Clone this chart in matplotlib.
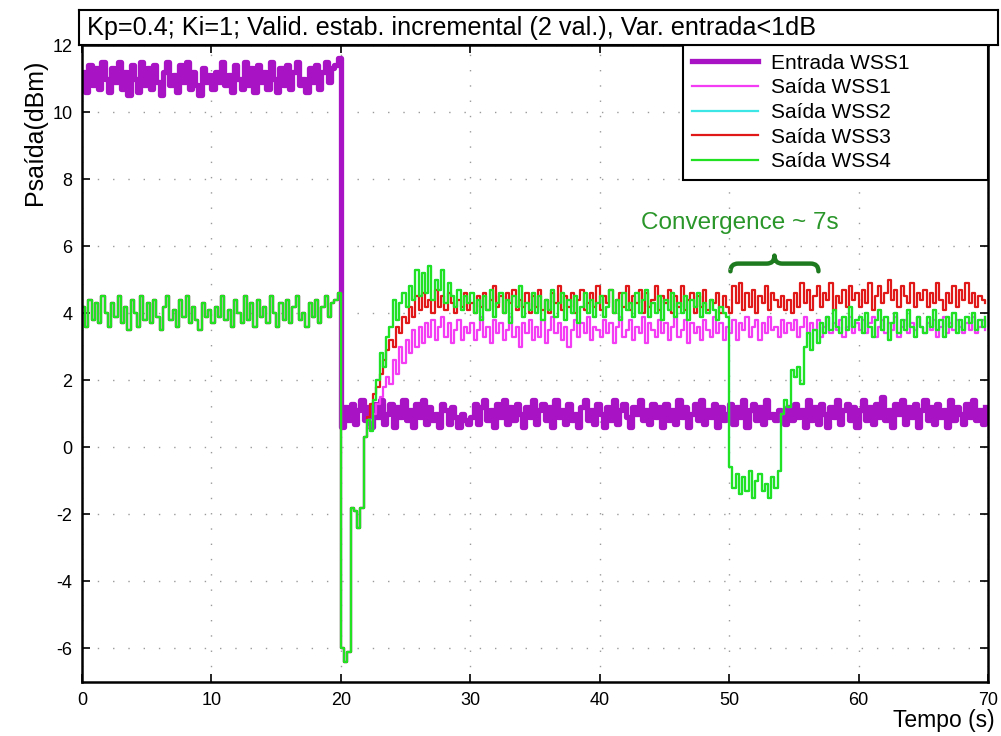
import numpy as np
import matplotlib
matplotlib.use("Agg")
import matplotlib.pyplot as plt
from matplotlib.path import Path
from matplotlib.patches import PathPatch

plt.rcParams['font.family'] = ['Liberation Sans', 'DejaVu Sans']
plt.rcParams['axes.unicode_minus'] = False

# -------------------------------
# Dados (amostras a cada 0.25 s)
# -------------------------------
passo = 0.25

entrada_pre = [
    11.2, 10.6, 11.4, 10.8, 11.3, 10.7, 11.5, 11.0, 10.6, 11.3, 10.9, 11.5, 10.7, 11.2, 10.5, 11.4, 11.0, 10.6, 11.5, 10.8,
    11.3, 10.7, 11.4, 10.9, 10.5, 11.2, 11.5, 10.8, 11.1, 10.6, 11.4, 10.9, 11.5, 10.7, 11.2, 10.8, 10.5, 11.3, 10.9, 11.1,
    10.7, 11.2, 10.9, 11.5, 10.8, 11.1, 10.6, 11.4, 11.0, 10.7, 11.5, 10.8, 11.3, 10.6, 11.4, 10.9, 11.2, 10.7, 11.5, 11.0,
    10.6, 11.3, 10.8, 11.4, 10.7, 11.2, 11.5, 10.8, 11.0, 10.6, 11.3, 10.9, 11.4, 10.7, 11.2, 11.5, 10.9, 11.3, 11.4, 11.6]

entrada_pos = [
    0.6, 1.2, 0.8, 1.3, 0.7, 1.1, 1.4, 0.8, 1.2, 0.6, 1.3, 0.9, 1.4, 0.7, 1.0, 1.3, 0.6, 1.2, 0.9, 1.4,
    0.8, 1.1, 0.6, 1.3, 0.9, 1.4, 0.7, 1.2, 0.8, 1.0, 0.6, 1.3, 1.1, 0.7, 1.2, 0.9, 0.6, 1.0, 0.8, 0.7,
    0.9, 1.3, 0.7, 1.2, 1.4, 0.8, 1.1, 0.6, 1.3, 0.9, 1.4, 0.7, 1.2, 0.8, 1.3, 1.0, 0.6, 1.2, 0.9, 1.4,
    0.7, 1.1, 1.3, 0.8, 1.2, 0.6, 1.4, 0.9, 1.1, 0.7, 1.3, 0.8, 1.0, 0.6, 1.2, 1.4, 0.8, 1.1, 0.7, 1.3,
    1.0, 0.6, 1.2, 0.8, 1.4, 0.7, 1.1, 1.3, 0.9, 0.6, 1.2, 1.0, 1.4, 0.8, 1.1, 0.7, 1.3, 0.9, 1.2, 0.6,
    1.3, 0.8, 1.1, 0.7, 1.4, 0.9, 1.2, 0.6, 1.0, 1.3, 0.8, 1.4, 0.7, 1.1, 0.9, 1.3, 0.6, 1.2, 0.8, 1.0,
    1.3, 0.7, 1.2, 0.9, 1.4, 0.6, 1.1, 1.3, 0.8, 1.2, 0.7, 1.4, 0.9, 1.0, 0.8, 1.1, 0.9, 0.7, 1.2, 0.8,
    1.3, 0.9, 1.1, 0.6, 1.4, 0.8, 1.2, 0.7, 1.3, 1.0, 0.6, 1.2, 0.9, 1.4, 0.7, 1.1, 1.3, 0.8, 1.2, 0.6,
    1.1, 1.4, 0.8, 1.2, 0.7, 1.3, 0.9, 1.5, 0.8, 1.1, 0.6, 1.3, 1.0, 1.4, 0.7, 1.2, 0.9, 1.3, 0.6, 1.1,
    1.4, 0.8, 1.2, 0.7, 1.3, 0.9, 1.1, 0.6, 1.4, 0.8, 1.2, 1.0, 0.7, 1.3, 0.9, 1.4, 0.8, 1.1, 0.7, 1.2]

# saídas antes do degrau (as 4 WSS coincidem)
saida_pre = [
    4.2, 3.6, 4.4, 3.8, 4.3, 3.7, 4.5, 4.0, 3.6, 4.3, 3.9, 4.5, 3.7, 4.2, 3.5, 4.4, 4.0, 3.6, 4.5, 3.8,
    4.3, 3.7, 4.4, 3.9, 3.5, 4.2, 4.5, 3.8, 4.1, 3.6, 4.4, 3.9, 4.5, 3.7, 4.2, 3.8, 3.5, 4.3, 3.9, 4.1,
    3.7, 4.2, 3.9, 4.5, 3.8, 4.1, 3.6, 4.4, 4.0, 3.7, 4.5, 3.8, 4.3, 3.6, 4.4, 3.9, 4.2, 3.7, 4.5, 4.0,
    3.6, 4.3, 3.8, 4.4, 3.7, 4.2, 4.5, 3.8, 4.0, 3.6, 4.3, 3.9, 4.4, 3.7, 4.2, 4.5, 3.9, 4.3, 4.4, 4.6]

saida_wss1_pos = [
    -6.0, -6.4, -6.1, -1.8, -1.9, -2.4, -1.8, 0.3, 0.6, 0.8, 1.0, 1.3, 1.5, 1.8, 2.1, 1.9, 2.6, 2.2, 3.0, 2.5,
    3.2, 2.8, 3.5, 3.0, 3.6, 3.1, 3.7, 3.3, 3.8, 3.2, 3.6, 3.9, 3.3, 3.7, 3.1, 3.5, 3.8, 3.2, 3.6, 3.4,
    3.7, 3.2, 3.5, 3.9, 3.3, 3.6, 3.1, 3.8, 3.4, 3.7, 3.2, 3.5, 3.9, 3.3, 3.6, 3.0, 3.7, 3.4, 3.8, 3.2,
    3.6, 3.3, 3.8, 3.1, 3.5, 3.9, 3.4, 3.7, 3.2, 3.6, 3.0, 3.5, 3.8, 3.3, 3.7, 3.4, 3.9, 3.2, 3.6, 3.5,
    3.3, 3.8, 3.4, 3.7, 3.1, 3.6, 3.9, 3.3, 3.5, 3.8, 3.2, 3.6, 3.4, 3.9, 3.1, 3.7, 3.5, 3.3, 3.8, 3.4,
    3.7, 3.2, 3.6, 3.9, 3.3, 3.5, 3.8, 3.1, 3.7, 3.4, 3.6, 3.2, 3.8, 3.5, 3.3, 3.9, 3.4, 3.7, 3.2, 3.6,
    3.4, 3.8, 3.2, 3.7, 3.5, 3.9, 3.3, 3.6, 3.8, 3.2, 3.7, 3.4, 3.9, 3.5, 3.6, 3.3, 3.8, 3.4, 3.7, 3.5,
    3.8, 3.3, 3.6, 3.9, 3.4, 3.7, 3.5, 3.8, 3.3, 3.6, 3.9, 3.4, 3.7, 3.5, 3.8, 3.3, 3.6, 3.9, 3.4, 3.7,
    3.5, 3.8, 3.4, 3.7, 3.9, 3.3, 3.6, 3.8, 3.4, 3.7, 3.5, 3.9, 3.3, 3.6, 3.8, 3.4, 3.7, 3.5, 3.9, 3.6,
    3.4, 3.7, 3.5, 3.8, 3.3, 3.6, 3.9, 3.4, 3.7, 3.5, 3.8, 3.6, 3.4, 3.7, 3.5, 3.9, 3.4, 3.6, 3.8, 3.5]

saida_wss3_pos = [
    -6.0, -6.4, -6.1, -1.8, -1.9, -2.4, -1.8, 0.3, 0.9, 1.3, 1.6, 1.8, 2.2, 2.6, 2.9, 3.2, 3.0, 3.6, 3.4, 3.9,
    3.7, 4.2, 3.9, 4.5, 4.1, 4.6, 4.2, 4.4, 4.0, 4.7, 4.2, 4.5, 4.1, 4.6, 4.3, 4.0, 4.4, 4.2, 4.6, 4.1,
    4.3, 4.0, 4.5, 4.2, 4.6, 4.1, 4.4, 4.8, 4.2, 4.5, 4.0, 4.6, 4.3, 4.7, 4.1, 4.4, 4.2, 4.6, 4.0, 4.5,
    4.2, 4.7, 4.1, 4.4, 4.0, 4.6, 4.3, 4.8, 4.1, 4.5, 4.2, 4.6, 4.0, 4.4, 4.7, 4.1, 4.3, 4.6, 4.2, 4.8,
    4.1, 4.5, 4.3, 4.7, 4.0, 4.4, 4.6, 4.2, 4.8, 4.1, 4.5, 4.3, 4.7, 4.0, 4.6, 4.2, 4.4, 4.8, 4.1, 4.5,
    4.3, 4.7, 4.0, 4.5, 4.2, 4.8, 4.1, 4.4, 4.6, 4.0, 4.5, 4.2, 4.7, 4.1, 4.4, 4.3, 4.6, 4.0, 4.5, 4.2,
    4.0, 4.8, 4.3, 4.9, 4.1, 4.6, 4.2, 4.7, 4.0, 4.5, 4.3, 4.8, 4.1, 4.6, 4.4, 4.2, 4.5, 4.1, 4.4, 4.0,
    4.6, 4.2, 4.9, 4.3, 4.7, 4.1, 4.5, 4.8, 4.2, 4.6, 4.4, 4.9, 4.1, 4.5, 4.3, 4.7, 4.2, 4.8, 4.4, 4.6,
    4.2, 4.7, 4.3, 4.9, 4.1, 4.5, 4.8, 4.3, 4.6, 5.0, 4.4, 4.7, 4.2, 4.8, 4.5, 4.3, 4.9, 4.2, 4.6, 4.4,
    4.7, 4.2, 4.6, 4.3, 4.9, 4.4, 4.1, 4.6, 4.3, 4.8, 4.2, 4.7, 4.4, 4.9, 4.3, 4.6, 4.2, 4.5, 4.4, 4.3]

saida_wss4_pos = [
    -6.0, -6.4, -6.1, -1.8, -1.9, -2.4, -1.8, 0.3, 0.8, 0.5, 1.4, 2.0, 2.8, 2.4, 3.3, 3.6, 4.4, 3.8, 4.3, 4.6,
    4.2, 4.8, 4.4, 5.3, 4.5, 5.2, 4.6, 5.4, 4.4, 5.0, 4.7, 5.3, 4.3, 4.9, 4.5, 4.2, 4.7, 4.1, 4.5, 4.3,
    4.6, 4.0, 4.4, 3.8, 4.5, 4.1, 4.7, 3.9, 4.3, 4.6, 4.0, 4.4, 3.7, 4.5, 4.2, 4.8, 3.9, 4.3, 4.1, 4.6,
    4.0, 4.5, 3.8, 4.4, 4.1, 4.7, 3.9, 4.3, 4.6, 3.8, 4.4, 4.0, 4.5, 3.7, 4.2, 4.6, 4.0, 4.4, 3.9, 4.3,
    4.5, 3.9, 4.2, 4.7, 4.0, 4.4, 3.8, 4.6, 4.1, 4.3, 3.9, 4.6, 4.0, 4.4, 4.7, 3.9, 4.3, 4.0, 4.5, 3.8,
    4.4, 4.1, 4.6, 3.9, 4.3, 4.0, 4.5, 3.8, 4.4, 4.2, 4.6, 3.9, 4.3, 4.0, 4.4, 4.1, 3.8, 4.2, 4.0, 3.9,
    -0.6, -1.2, -0.8, -1.4, -0.9, -1.3, -0.7, -1.5, -1.0, -0.8, -1.3, -1.1, -1.5, -0.9, -1.2, -0.7, 1.0, 1.4, 1.2, 2.3,
    2.1, 2.4, 1.9, 3.0, 3.4, 2.9, 3.5, 3.1, 3.7, 3.4, 3.9, 3.5, 4.1, 3.6, 3.4, 3.9, 3.5, 4.2, 3.6, 3.8,
    3.9, 3.4, 4.0, 3.6, 3.3, 3.8, 4.1, 3.5, 3.9, 3.2, 3.7, 4.0, 3.4, 3.8, 3.5, 4.1, 3.6, 3.3, 3.9, 3.6,
    3.4, 3.9, 3.6, 4.1, 3.5, 3.8, 3.3, 3.9, 3.6, 4.0, 3.4, 3.8, 3.5, 3.9, 3.7, 4.0, 3.5, 3.8, 3.6, 3.9]

# WSS2 fica escondida sob a WSS4
saida_wss2_pos = list(saida_wss4_pos)

entrada_wss1 = entrada_pre + entrada_pos
saida_wss1 = saida_pre + saida_wss1_pos
saida_wss2 = saida_pre + saida_wss2_pos
saida_wss3 = saida_pre + saida_wss3_pos
saida_wss4 = saida_pre + saida_wss4_pos

tempo = np.arange(len(entrada_wss1)) * passo

series = [
    ('Entrada WSS1', entrada_wss1, '#A814C4', 3.8),
    ('Saída WSS1', saida_wss1, '#F53CF5', 1.6),
    ('Saída WSS2', saida_wss2, '#3CE6E6', 1.6),
    ('Saída WSS3', saida_wss3, '#E01818', 1.6),
    ('Saída WSS4', saida_wss4, '#22E022', 1.6),
]

# -------------------------------
# Figura
# -------------------------------
fig = plt.figure(figsize=(10.01, 7.36), dpi=100)
ax = fig.add_axes([82/1001, 1 - 682/736, 906/1001, 637/736])

for nome, valores, cor, lw in series:
    ax.plot(tempo, valores, color=cor, lw=lw, label=nome, drawstyle='steps-post')

ax.set_xlim(0, 70)
ax.set_ylim(-7, 12)
ax.set_xticks(np.arange(0, 71, 10))
ax.set_yticks(np.arange(-6, 13, 2))
ax.tick_params(direction='in', top=True, right=True, length=6, width=1.2,
               labelsize=13, pad=7)
for s in ax.spines.values():
    s.set_linewidth(1.8)
ax.grid(True, color='#9a9a9a', linestyle=(0, (1, 10)), linewidth=1.0)

leg = ax.legend(loc='upper left', mode='expand',
                bbox_to_anchor=((683 - 82)/906, 0, (988 - 683)/906, 1),
                borderaxespad=0, fancybox=False,
                edgecolor='black', fontsize=15, handlelength=3.2,
                handletextpad=0.6, labelspacing=0.27, borderpad=0.42,
                framealpha=1)
leg.get_frame().set_linewidth(1.5)

# chave e texto da convergência
x0, x1, xc = 50.1, 56.9, 53.5
yb, ym, yt = 5.25, 5.48, 5.72
verts = [(x0, yb), (x0, ym), (x0 + 0.6, ym), (xc - 0.6, ym), (xc, ym), (xc, yt),
         (xc, ym), (xc + 0.6, ym), (x1 - 0.6, ym), (x1, ym), (x1, yb)]
codes = [Path.MOVETO, Path.CURVE3, Path.CURVE3, Path.LINETO, Path.CURVE3, Path.CURVE3,
         Path.CURVE3, Path.CURVE3, Path.LINETO, Path.CURVE3, Path.CURVE3]
ax.add_patch(PathPatch(Path(verts, codes), fill=False, edgecolor='#1E7A1E', lw=3.2,
                       capstyle='round', joinstyle='round'))
ax.text(50.8, 6.7, 'Convergence ~ 7s', color='#2A962A', fontsize=17.5,
        ha='center', va='center')

# caixa do título
tax = fig.add_axes([79/1001, 1 - 45/736, 919/1001, 35/736])
tax.set_xticks([])
tax.set_yticks([])
for s in tax.spines.values():
    s.set_linewidth(1.5)
tax.text(8/919, 0.5, 'Kp=0.4; Ki=1; Valid. estab. incremental (2 val.), Var. entrada<1dB',
         transform=tax.transAxes, fontsize=18.2, ha='left', va='center')

fig.text(35/1001, 1 - 132/736, 'Psaída(dBm)', rotation=90, fontsize=18,
         ha='center', va='center')
fig.text(995/1001, 1 - 720/736, 'Tempo (s)', fontsize=16.5, ha='right', va='center')

fig.savefig('out.png', dpi=100)
